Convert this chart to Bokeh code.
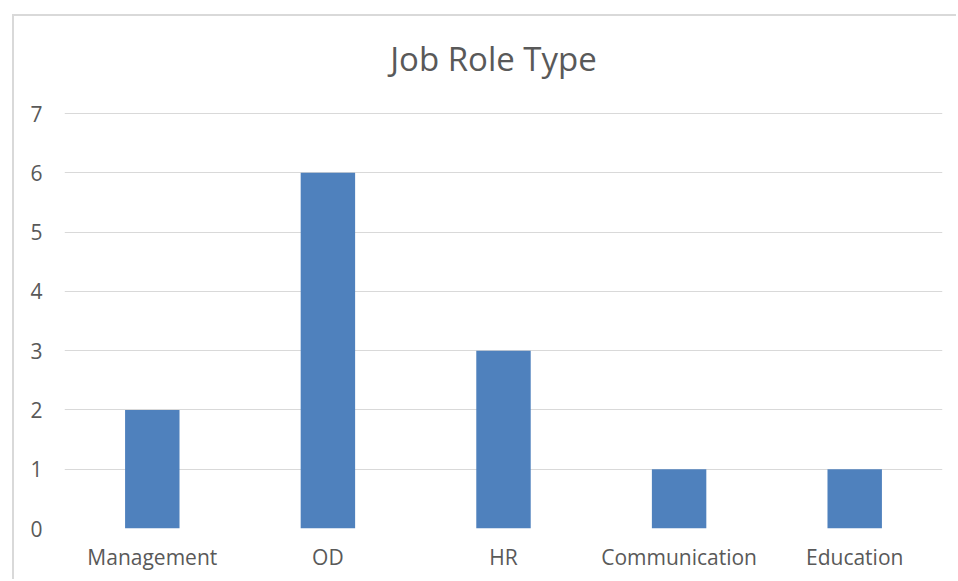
from bokeh.plotting import figure
from bokeh.models import FactorRange, Range1d, FixedTicker, Label
from bokeh.embed import file_html
from bokeh.resources import INLINE

categories = ["Management", "OD", "HR", "Communication", "Education"]
counts = [2, 6, 3, 1, 1]
y_ticks = [0, 1, 2, 3, 4, 5, 6, 7]
title_text = "Job Role Type"

# frame extends to the top of the chart so the title can sit inside it
y_top = 7 * 512 / 415

p = figure(x_range=FactorRange(*categories), y_range=Range1d(0, y_top),
           width=944, height=565, output_backend="svg", toolbar_location=None)
p.margin = (14, 0, 0, 12)
p.styles = {"border-left": "2px solid #d9d9d9", "border-top": "2px solid #d9d9d9"}
p.min_border_left = 50
p.min_border_right = 16
p.min_border_top = 0
p.min_border_bottom = 53
p.outline_line_color = None
p.background_fill_color = "white"
p.border_fill_color = "white"

p.vbar(x=categories, top=counts, width=0.31, fill_color="#4F81BD", line_color=None)

title = Label(x=2.443, y=7 + 55 / 59.29, text=title_text,
              text_font="Open Sans", text_font_size="33px", text_color="#595959",
              text_align="center", text_baseline="middle")
p.add_layout(title)

p.yaxis.ticker = FixedTicker(ticks=y_ticks)
p.ygrid.grid_line_color = "#d9d9d9"
p.ygrid.grid_line_width = 1
p.xgrid.grid_line_color = None
for ax in (p.xaxis, p.yaxis):
    ax.axis_line_color = None
    ax.major_tick_line_color = None
    ax.minor_tick_line_color = None
    ax.major_label_text_font = "Open Sans"
    ax.major_label_text_font_size = "21px"
    ax.major_label_text_color = "#595959"
p.yaxis.major_label_standoff = 16
p.xaxis.major_label_standoff = 8

open("out.html", "w").write(file_html(p, INLINE))
